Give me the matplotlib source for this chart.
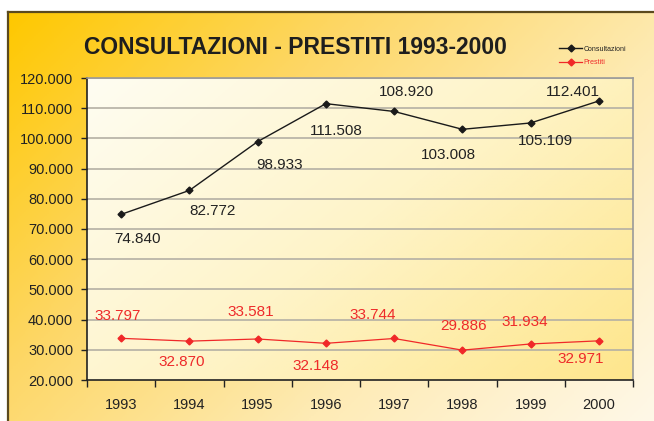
import matplotlib
matplotlib.use("Agg")
import matplotlib.pyplot as plt
import numpy as np
from matplotlib.colors import LinearSegmentedColormap
from matplotlib.ticker import FuncFormatter, FixedLocator
from matplotlib.patches import Rectangle

plt.rcParams["font.family"] = ["Liberation Sans", "DejaVu Sans"]

years = ["1993", "1994", "1995", "1996", "1997", "1998", "1999", "2000"]
consultazioni = [74840, 82772, 98933, 111508, 108920, 103008, 105109, 112401]
prestiti = [33797, 32870, 33581, 32148, 33744, 29886, 31934, 32971]

# label offsets in pixels (dx, dy), hand-placed like the original
off_cons = [(16, -25), (23, -21), (22, -23), (10, -27), (12, 19), (-14, -26), (15, -18), (-26, 9)]
off_pres = [(-3, 22), (-8, -21), (-7, 27), (-10, -23), (-21, 23), (1, 24), (-6, 22), (-18, -18)]


def fmt(v, pos=None):
    return f"{int(v):,}".replace(",", ".")


W, H = 654, 421
fig = plt.figure(figsize=(W / 100, H / 100), dpi=100)
fig.patch.set_facecolor("white")

# outer chart background gradient (orange top-left -> cream bottom-right)
bg = fig.add_axes([0, 0, 1, 1], zorder=-2)
bg.set_xlim(0, W)
bg.set_ylim(H, 0)
bg.axis("off")
cm_out = LinearSegmentedColormap.from_list("out", ["#FFC800", "#FDD766", "#FEEBB5", "#FFF8E8"])
gx, gy = np.meshgrid(np.linspace(0, 1, 300), np.linspace(0, 1, 200))
bg.imshow(0.62 * gx + 0.38 * gy, cmap=cm_out, extent=[8, W + 2, H + 2, 12], aspect="auto", zorder=0)
bg.plot([8, 8], [H + 2, 12], color="#5b4a1e", lw=1.6, zorder=2)
bg.plot([8, W + 2], [12, 12], color="#5b4a1e", lw=1.6, zorder=2)

l, r, t, b = 87, 633, 78, 380
ax = fig.add_axes([l / W, 1 - b / H, (r - l) / W, (b - t) / H])
ax.set_facecolor("none")
x = np.arange(len(years))
ax.set_xlim(-0.5, len(years) - 0.5)
ax.set_ylim(20000, 120000)

cm_in = LinearSegmentedColormap.from_list("in", ["#FFFDF2", "#FEF4C8", "#FEE68C"])
ax.imshow(0.6 * gx + 0.4 * gy, cmap=cm_in, extent=[-0.5, len(years) - 0.5, 20000, 120000],
          aspect="auto", origin="upper", zorder=0)

ax.set_yticks(np.arange(20000, 120001, 10000))
ax.yaxis.set_major_formatter(FuncFormatter(fmt))
for yv in np.arange(30000, 120001, 10000):
    ax.axhline(yv, color="#b4b0a4", lw=1.2, zorder=1)

ax.xaxis.set_major_locator(FixedLocator(x))
ax.set_xticklabels(years)
ax.xaxis.set_minor_locator(FixedLocator(np.arange(-0.5, len(years), 1)))
ax.tick_params(axis="x", which="major", length=0, pad=13, labelsize=10.5, labelcolor="#222222")
ax.tick_params(axis="x", which="minor", length=5, width=1, direction="out", color="#222222")
ax.tick_params(axis="y", length=4, width=1, direction="out", pad=6, labelsize=10.5,
               labelcolor="#222222", color="#222222")

for s in ["top", "right"]:
    ax.spines[s].set_color("#9a9a9a")
    ax.spines[s].set_linewidth(1.2)
for s in ["left", "bottom"]:
    ax.spines[s].set_color("#222222")
    ax.spines[s].set_linewidth(1.2)

ax.plot(x, consultazioni, color="#1a1a1a", lw=1, marker="D", ms=3.5, zorder=3, label="Consultazioni")
ax.plot(x, prestiti, color="#f02828", lw=0.9, marker="D", ms=3.5, zorder=3, label="Prestiti")

for xi, v, (dx, dy) in zip(x, consultazioni, off_cons):
    ax.annotate(fmt(v), (xi, v), xytext=(dx, dy), textcoords="offset pixels",
                ha="center", va="center", fontsize=11, color="#222222", zorder=4)
for xi, v, (dx, dy) in zip(x, prestiti, off_pres):
    ax.annotate(fmt(v), (xi, v), xytext=(dx, dy), textcoords="offset pixels",
                ha="center", va="center", fontsize=11, color="#ee2a2a", zorder=4)

fig.text(295 / W, 1 - 48 / H, "CONSULTAZIONI - PRESTITI 1993-2000", ha="center", va="center",
         fontsize=16.5, fontweight="bold", color="#1e1e1e")

leg = fig.legend(loc="center left", bbox_to_anchor=(556 / W, 1 - 56 / H), frameon=False,
                 fontsize=5, handlelength=3.2, handletextpad=0.3, labelspacing=0.9, borderpad=0)
for txt, c in zip(leg.get_texts(), ["#222222", "#ee2a2a"]):
    txt.set_color(c)

fig.savefig("out.png", dpi=100)
